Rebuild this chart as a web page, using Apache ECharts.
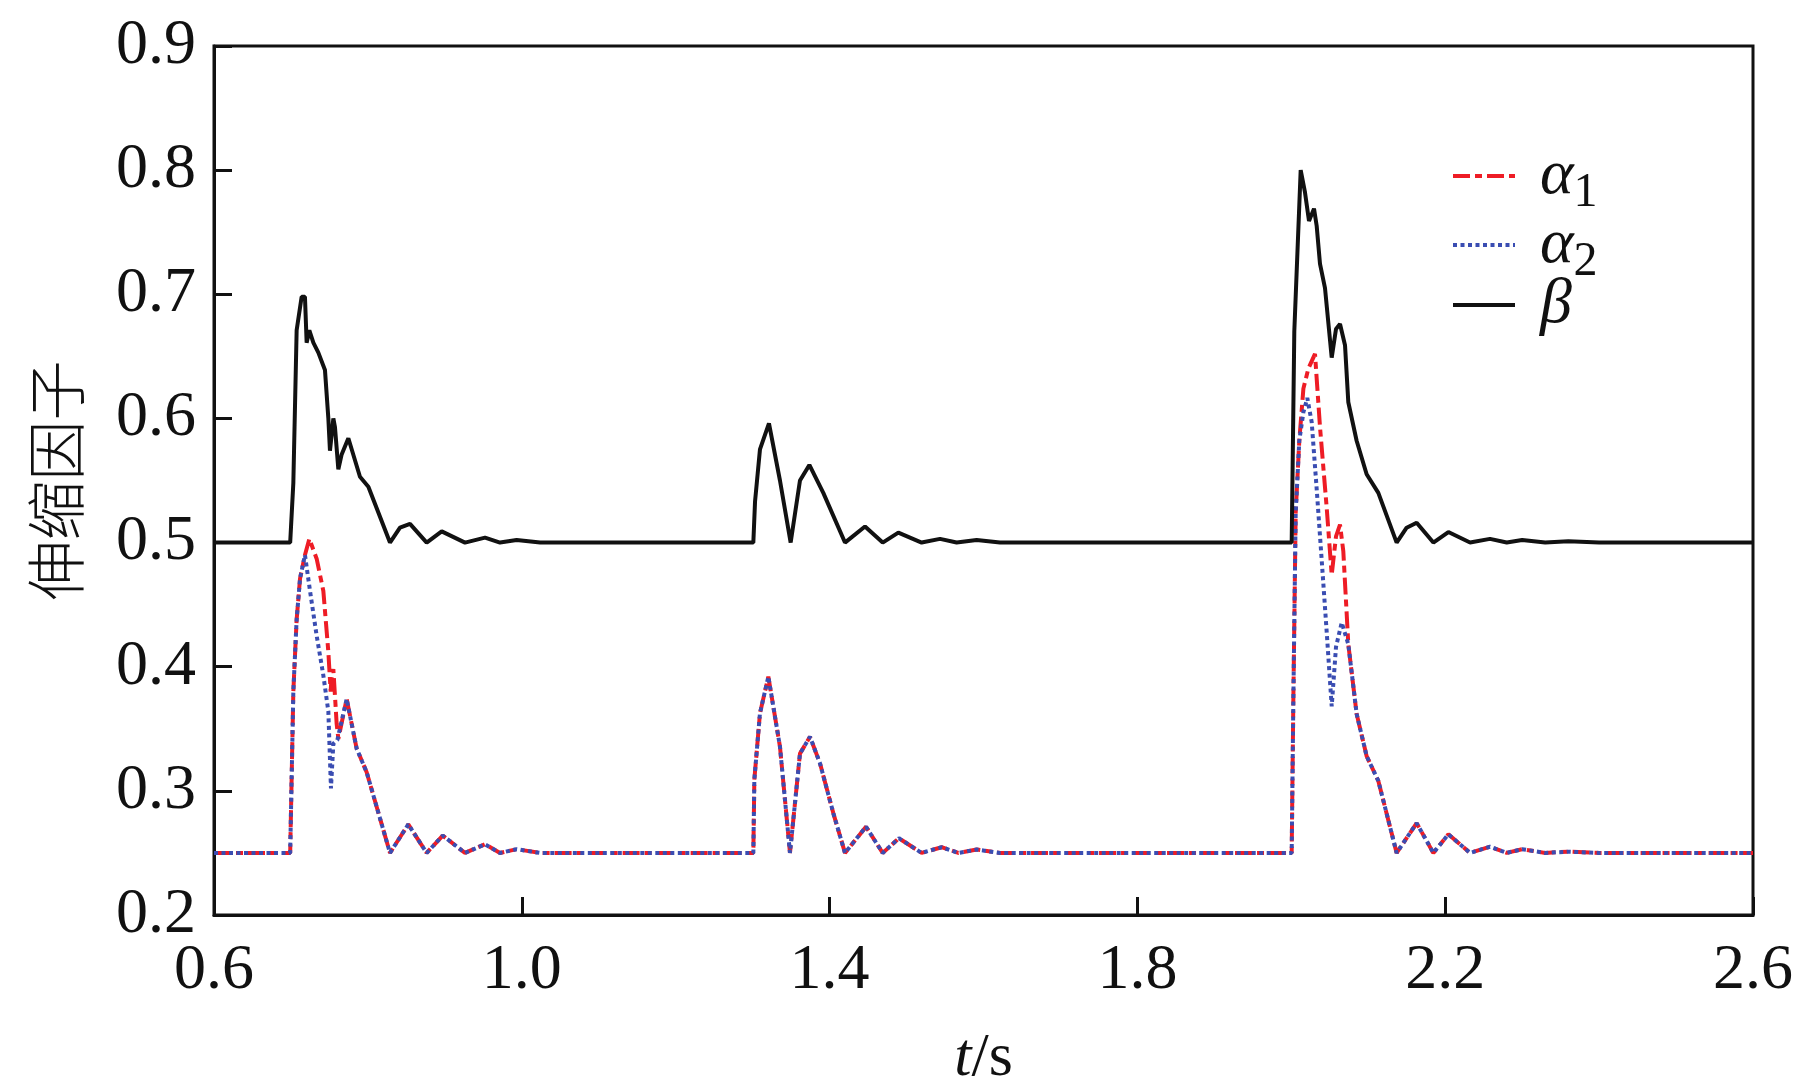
<!DOCTYPE html>
<html>
<head>
<meta charset="utf-8">
<script src="https://cdn.jsdelivr.net/npm/echarts@6/dist/echarts.min.js"></script>
<style>
html,body{margin:0;padding:0;background:#fff;}
#chart{width:1804px;height:1077px;}
</style>
</head>
<body>
<div id="chart"></div>
<script>
// Tick labels
const xTicks = [0.6, 1.0, 1.4, 1.8, 2.2, 2.6];
const yTicks = [0.2, 0.3, 0.4, 0.5, 0.6, 0.7, 0.8, 0.9];

// beta: [t, value]
const betaData = [
  [0.6, 0.5],
  [0.699, 0.5], [0.7031, 0.548], [0.7074, 0.671], [0.7139, 0.698], [0.7182, 0.698],
  [0.7204, 0.661], [0.7239, 0.671], [0.7291, 0.661], [0.7356, 0.653], [0.7442, 0.639],
  [0.7486, 0.600], [0.7507, 0.574], [0.7551, 0.600], [0.7572, 0.593], [0.7616, 0.559],
  [0.7659, 0.571], [0.7746, 0.584], [0.7897, 0.553], [0.8006, 0.545], [0.8287, 0.5],
  [0.8417, 0.512], [0.8547, 0.515], [0.8764, 0.5], [0.8959, 0.509], [0.9262, 0.5],
  [0.9522, 0.504], [0.9717, 0.5], [0.9933, 0.502], [1.0238, 0.5],
  [1.3009, 0.5], [1.3031, 0.533], [1.3095, 0.575], [1.3212, 0.596], [1.3355, 0.550],
  [1.3494, 0.5], [1.3615, 0.550], [1.3737, 0.5625], [1.3918, 0.540], [1.4200, 0.5],
  [1.4460, 0.513], [1.4690, 0.5], [1.4893, 0.508], [1.5196, 0.5], [1.5435, 0.503],
  [1.5651, 0.5], [1.5911, 0.502], [1.6214, 0.5],
  [2.0005, 0.5], [2.0039, 0.670], [2.0122, 0.800], [2.0178, 0.782], [2.0230, 0.759],
  [2.0295, 0.769], [2.0330, 0.755], [2.0373, 0.7245], [2.0438, 0.705], [2.0525, 0.649],
  [2.0581, 0.672], [2.0633, 0.676], [2.0698, 0.659], [2.0741, 0.613], [2.0849, 0.582],
  [2.0979, 0.555], [2.1131, 0.540], [2.1369, 0.5], [2.1499, 0.512], [2.1629, 0.516],
  [2.1846, 0.5], [2.2041, 0.5085], [2.2323, 0.5], [2.2582, 0.503], [2.28, 0.5],
  [2.30, 0.502], [2.33, 0.5], [2.36, 0.501], [2.40, 0.5],
  [2.6, 0.5]
];

// alpha values shared by both series
const alphaStart = [
  [0.6, 0.25], [0.699, 0.25], [0.7031, 0.380], [0.7074, 0.438], [0.7118, 0.471], [0.7182, 0.490]
];
const alphaEvent1Tail = [
  [0.7724, 0.374], [0.7854, 0.334], [0.7984, 0.315], [0.8287, 0.25], [0.8525, 0.273],
  [0.8764, 0.25], [0.8972, 0.264], [0.9262, 0.25], [0.9522, 0.257], [0.9717, 0.25],
  [0.9933, 0.253], [1.0238, 0.25]
];
const alphaEvent2 = [
  [1.3009, 0.25], [1.3022, 0.309], [1.3095, 0.3625], [1.3204, 0.392], [1.3355, 0.3356],
  [1.3485, 0.25], [1.3615, 0.330], [1.3745, 0.3436], [1.3875, 0.3222], [1.4049, 0.2819],
  [1.4200, 0.25], [1.4473, 0.2711], [1.4690, 0.25], [1.4902, 0.2618], [1.5196, 0.25],
  [1.5457, 0.2546], [1.5673, 0.25], [1.5911, 0.2527], [1.6214, 0.25]
];
const alphaEvent3Start = [
  [2.0005, 0.25], [2.0026, 0.370], [2.0057, 0.524], [2.0104, 0.582]
];
const alphaEvent3Tail = [
  [2.0741, 0.418], [2.0849, 0.362], [2.0979, 0.328], [2.1131, 0.308], [2.1369, 0.25],
  [2.1629, 0.274], [2.1846, 0.25], [2.2041, 0.265], [2.2323, 0.25], [2.2582, 0.255],
  [2.28, 0.25], [2.30, 0.253], [2.33, 0.25], [2.36, 0.251], [2.40, 0.25], [2.6, 0.25]
];

// alpha1 specific parts
const alpha1Event1Peak = [
  [0.7239, 0.503], [0.7334, 0.487], [0.7421, 0.461], [0.7486, 0.412], [0.7516, 0.380],
  [0.7529, 0.393], [0.7551, 0.398], [0.7594, 0.354], [0.7616, 0.342]
];
const alpha1Event3Peak = [
  [2.0157, 0.624], [2.0221, 0.640], [2.0308, 0.652], [2.0373, 0.593], [2.0460, 0.528],
  [2.0525, 0.474], [2.0581, 0.505], [2.0633, 0.5145], [2.0676, 0.493]
];
// alpha2 specific parts
const alpha2Event1Peak = [
  [0.7248, 0.461], [0.7334, 0.425], [0.7421, 0.393], [0.7486, 0.364], [0.7520, 0.302],
  [0.7551, 0.338], [0.7603, 0.341]
];
const alpha2Event3Peak = [
  [2.0157, 0.605], [2.0208, 0.6165], [2.0265, 0.597], [2.0330, 0.543], [2.0395, 0.486],
  [2.0460, 0.428], [2.0525, 0.368], [2.0581, 0.416], [2.0655, 0.4355]
];

const alpha1Data = [].concat(alphaStart, alpha1Event1Peak, alphaEvent1Tail, alphaEvent2,
  alphaEvent3Start, alpha1Event3Peak, alphaEvent3Tail);
const alpha2Data = [].concat(alphaStart, alpha2Event1Peak, alphaEvent1Tail, alphaEvent2,
  alphaEvent3Start, alpha2Event3Peak, alphaEvent3Tail);

const SERIF = 'Liberation Serif';
const chart = echarts.init(document.getElementById('chart'));

const legendLabels = {
  'α1': '{g|}{a|α}{s|1}',
  'α2': '{g|}{a|α}{s|2}',
  'β': '{g|}{a|β}'
};

chart.setOption({
  animation: false,
  backgroundColor: '#fff',
  grid: {
    left: 214, right: 51, top: 46, bottom: 162,
    outerBoundsMode: 'none',
    containLabel: false,
    show: true, borderColor: '#111', borderWidth: 3, backgroundColor: 'transparent'
  },
  legend: {
    orient: 'vertical',
    left: 1446,
    top: 130,
    itemWidth: 62,
    itemHeight: 14,
    itemGap: -13,
    itemStyle: { opacity: 0 },
    lineStyle: { width: 4 },
    data: ['α1', 'α2', 'β'],
    formatter: function (name) { return legendLabels[name]; },
    textStyle: {
      color: '#111',
      rich: {
        g: { width: 20, height: 66 },
        a: { fontFamily: SERIF, fontStyle: 'italic', fontSize: 64, lineHeight: 66, color: '#111' },
        s: { fontFamily: SERIF, fontSize: 48, lineHeight: 32, padding: [34, 0, 0, 0], color: '#111' }
      }
    }
  },
  xAxis: {
    type: 'value',
    min: 0.6,
    max: 2.6,
    name: '{i|t}{n|/s}',
    nameLocation: 'middle',
    nameGap: 113,
    nameMoveOverlap: false,
    nameTextStyle: {
      verticalAlign: 'top',
      rich: {
        i: { fontFamily: SERIF, fontStyle: 'italic', fontSize: 62, lineHeight: 62, color: '#111' },
        n: { fontFamily: SERIF, fontSize: 62, lineHeight: 62, color: '#111' }
      }
    },
    axisLine: { show: true, onZero: false, lineStyle: { color: '#111', width: 3 } },
    axisTick: { show: true, inside: true, length: 18, lineStyle: { color: '#111', width: 3 }, customValues: xTicks },
    axisLabel: {
      customValues: xTicks,
      margin: 24,
      fontFamily: SERIF, fontSize: 64, color: '#111',
      formatter: function (v) { return v.toFixed(1); }
    },
    splitLine: { show: false }
  },
  yAxis: {
    type: 'value',
    min: 0.2,
    max: 0.9,
    name: '伸缩因子',
    nameLocation: 'middle',
    nameGap: 128,
    nameRotate: 90,
    nameMoveOverlap: false,
    nameTextStyle: { fontFamily: 'Noto Sans CJK SC', fontSize: 60, fontWeight: 300, color: '#111' },
    axisLine: { show: true, onZero: false, lineStyle: { color: '#111', width: 3 } },
    axisTick: { show: true, inside: true, length: 18, lineStyle: { color: '#111', width: 3 }, customValues: yTicks },
    axisLabel: {
      customValues: yTicks,
      margin: 18,
      fontFamily: SERIF, fontSize: 64, color: '#111',
      formatter: function (v) { return v.toFixed(1); }
    },
    splitLine: { show: false }
  },
  series: [
    {
      name: 'α1', type: 'line', data: alpha1Data, showSymbol: false, symbol: 'none',
      lineStyle: { color: '#ee1c25', width: 4, type: [17, 5, 7, 5] },
      itemStyle: { color: '#ee1c25' }, z: 2
    },
    {
      name: 'α2', type: 'line', data: alpha2Data, showSymbol: false, symbol: 'none',
      lineStyle: { color: '#3a4db2', width: 4, type: [4, 3.5] },
      itemStyle: { color: '#3a4db2' }, z: 3
    },
    {
      name: 'β', type: 'line', data: betaData, showSymbol: false, symbol: 'none',
      lineStyle: { color: '#111', width: 4, type: 'solid' },
      itemStyle: { color: '#111' }, z: 4
    }
  ]
});
</script>
</body>
</html>
